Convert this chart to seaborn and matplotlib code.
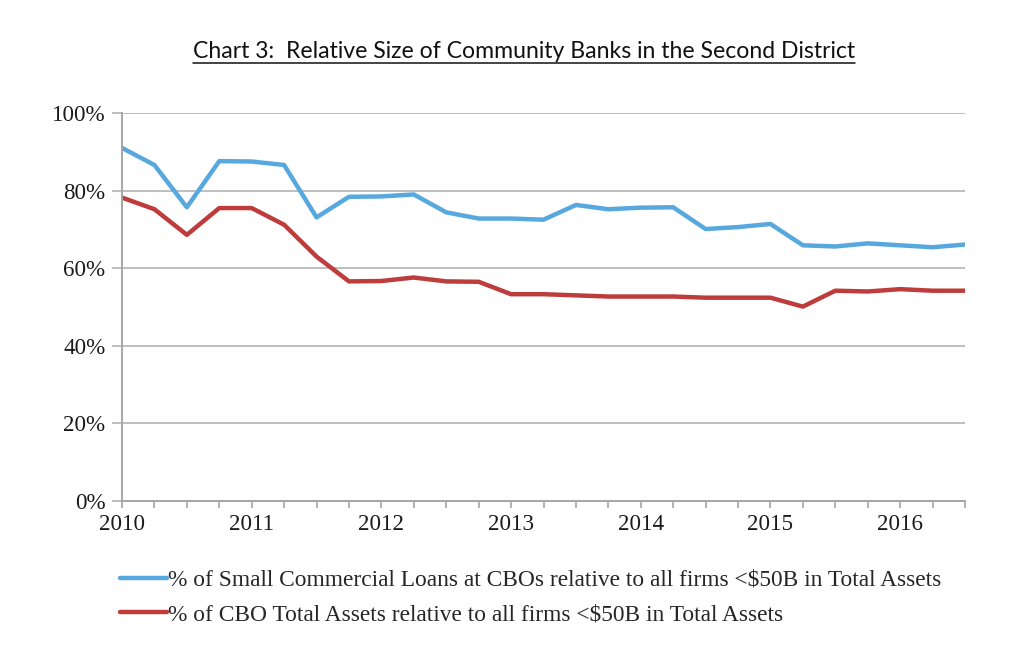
import numpy as np
import pandas as pd
import matplotlib
matplotlib.use("Agg")
import matplotlib.pyplot as plt
from matplotlib.lines import Line2D
import seaborn as sns

quarters = [2010 + 0.25 * i for i in range(27)]
small_loans = [91.0, 86.6, 75.7, 87.6, 87.5, 86.6, 73.1, 78.4, 78.5, 79.0, 74.4, 72.8, 72.8,
               72.5, 76.3, 75.2, 75.6, 75.7, 70.1, 70.6, 71.4, 65.9, 65.6, 66.4, 65.9, 65.4, 66.1]
total_assets = [78.2, 75.2, 68.6, 75.5, 75.5, 71.2, 63.0, 56.6, 56.7, 57.6, 56.6, 56.5, 53.3,
                53.3, 53.0, 52.7, 52.7, 52.7, 52.4, 52.4, 52.4, 50.1, 54.2, 54.0, 54.6, 54.2, 54.2]
series_names = ["% of Small Commercial Loans at CBOs relative to all firms <$50B in Total Assets",
                "% of CBO Total Assets relative to all firms <$50B in Total Assets"]
year_labels = ["2010", "2011", "2012", "2013", "2014", "2015", "2016"]
y_ticks = [0, 20, 40, 60, 80, 100]
title = "Chart 3:  Relative Size of Community Banks in the Second District"

df = pd.DataFrame({
    "quarter": quarters * 2,
    "value": small_loans + total_assets,
    "series": [series_names[0]] * len(quarters) + [series_names[1]] * len(quarters),
})

sns.set_theme(style="white")
plt.rcParams["font.family"] = ["Liberation Serif", "DejaVu Serif"]

colors = ["#56A8DF", "#BE3C3B"]
fs = 16.6
fig = plt.figure(figsize=(10.33, 6.63), dpi=100)
ax = fig.add_axes([122 / 1033, 1 - 501 / 663, 843 / 1033, 388 / 663])

sns.lineplot(data=df, x="quarter", y="value", hue="series", palette=colors,
             linewidth=3.2, ax=ax, legend=False)

ax.set_xlim(quarters[0], quarters[-1])
ax.set_ylim(0, 100)
ax.set_yticks(y_ticks)
ax.set_yticklabels([f"{v}%" for v in y_ticks], fontsize=fs, color="#1a1a1a")
ax.set_xticks(quarters)
ax.set_xticklabels([str(int(q)) if q == int(q) else "" for q in quarters], fontsize=fs, color="#1a1a1a")
ax.set_xlabel("")
ax.set_ylabel("")
ax.grid(axis="y", color="#BEBEBE", linewidth=1.4)
ax.grid(axis="x", visible=False)
for s in ["top", "right"]:
    ax.spines[s].set_visible(False)
for s in ["left", "bottom"]:
    ax.spines[s].set_color("#A6A6A6")
    ax.spines[s].set_linewidth(1.4)
ax.tick_params(axis="x", bottom=True, direction="out", length=5, width=1.2, color="#A6A6A6", pad=4)
ax.tick_params(axis="y", left=True, direction="out", length=7, width=1.4, color="#BEBEBE", pad=5)
ax.set_axisbelow(True)

handles = [Line2D([0], [0], color=c, linewidth=3.2) for c in colors]
fig.legend(handles, series_names, loc="upper left", bbox_to_anchor=(111 / 1033, 1 - 560 / 663),
           frameon=False, fontsize=16.8, handlelength=2.0, handletextpad=0.05,
           labelspacing=0.58, borderaxespad=0)

t = fig.text(524 / 1033, 1 - 51 / 663, title, ha="center", va="center",
             fontsize=16.6, family=["Lato", "DejaVu Sans"], color="#111111")
fig.canvas.draw()
bb = t.get_window_extent()
uy = bb.y0 - 1
fig.add_artist(Line2D([bb.x0 / 1033, bb.x1 / 1033], [uy / 663, uy / 663], color="#111111",
                      linewidth=1.1, transform=fig.transFigure))

fig.savefig("out.png", dpi=100)
